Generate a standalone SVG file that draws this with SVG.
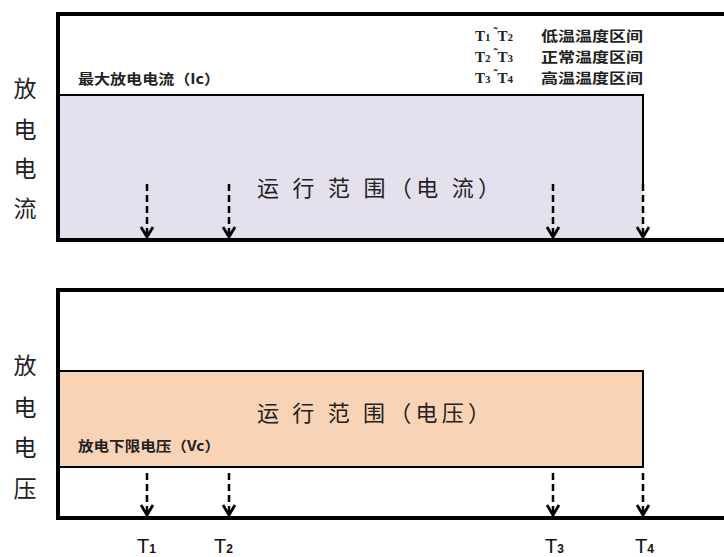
<svg xmlns="http://www.w3.org/2000/svg" width="724" height="557" viewBox="0 0 724 557">
<defs>
<style>
.frame{fill:none;stroke:#000;stroke-width:4}
.box{stroke:#000;stroke-width:2}
.arr{stroke:#000;stroke-width:2.5;stroke-dasharray:7 4;fill:none}
.head{stroke:#000;stroke-width:2.8;fill:none}
.side{font-family:"Noto Sans CJK SC",sans-serif;font-size:23px;fill:#222;text-anchor:middle}
.big{font-family:"Noto Sans CJK SC",sans-serif;font-size:22px;fill:#222}
.small{font-family:"Noto Sans CJK SC",sans-serif;font-size:14px;font-weight:bold;fill:#222}
.leg{font-family:"Liberation Serif","Noto Sans CJK SC",serif;font-size:15px;font-weight:bold;fill:#222}
.tl{font-family:"Liberation Sans",sans-serif;font-size:20px;fill:#111}
</style>
</defs>
<rect width="724" height="557" fill="#fff"/>

<g id="current-panel">
<rect x="58" y="95" width="585" height="145" fill="#e4e0ee"/>
<path class="box" d="M58 95 H643 V184" fill="none"/>
<path class="frame" d="M724 14 H58 V240 H724"/>
<text class="small" x="78" y="84" textLength="142" lengthAdjust="spacingAndGlyphs">最大放电电流（Ic）</text>
<text class="big" x="257" y="196" textLength="243" lengthAdjust="spacing">运 行 范 围（电 流）</text>
</g>

<g id="current-axis-label">
<text class="side" x="25" y="97">放</text>
<text class="side" x="25" y="138">电</text>
<text class="side" x="25" y="177">电</text>
<text class="side" x="25" y="217">流</text>
</g>

<g id="legend">
<text class="leg" x="475" y="41">T<tspan font-size="11">1</tspan><tspan dx="3" dy="-5" font-size="12">˜</tspan><tspan dy="5">T</tspan><tspan font-size="11">2</tspan></text>
<text class="leg" x="475" y="62">T<tspan font-size="11">2</tspan><tspan dx="3" dy="-5" font-size="12">˜</tspan><tspan dy="5">T</tspan><tspan font-size="11">3</tspan></text>
<text class="leg" x="475" y="83">T<tspan font-size="11">3</tspan><tspan dx="3" dy="-5" font-size="12">˜</tspan><tspan dy="5">T</tspan><tspan font-size="11">4</tspan></text>
<text class="small" x="541" y="41" textLength="102" lengthAdjust="spacingAndGlyphs" font-weight="normal">低温温度区间</text>
<text class="small" x="541" y="62" textLength="102" lengthAdjust="spacingAndGlyphs" font-weight="normal">正常温度区间</text>
<text class="small" x="541" y="83" textLength="102" lengthAdjust="spacingAndGlyphs" font-weight="normal">高温温度区间</text>
</g>

<g id="voltage-panel">
<rect x="58" y="371" width="585" height="96" fill="#f9d3b5" class="box"/>
<path class="frame" d="M724 290 H58 V518 H724"/>
<text class="big" x="257" y="421" textLength="233" lengthAdjust="spacing">运 行 范 围（电压）</text>
<text class="small" x="78" y="451" textLength="142" lengthAdjust="spacingAndGlyphs">放电下限电压（Vc）</text>
</g>

<g id="voltage-axis-label">
<text class="side" x="25" y="374">放</text>
<text class="side" x="25" y="416">电</text>
<text class="side" x="25" y="456">电</text>
<text class="side" x="25" y="497">压</text>
</g>

<g id="connectors">
<path class="arr" d="M147 184 V236"/>
<path class="arr" d="M229 184 V236"/>
<path class="arr" d="M553 184 V236"/>
<path class="arr" d="M643 184 V236"/>
<path class="head" d="M141 227 L147 237 L153 227"/>
<path class="head" d="M223 227 L229 237 L235 227"/>
<path class="head" d="M547 227 L553 237 L559 227"/>
<path class="head" d="M637 227 L643 237 L649 227"/>
<path class="arr" d="M147 473 V514"/>
<path class="arr" d="M229 473 V514"/>
<path class="arr" d="M553 473 V514"/>
<path class="arr" d="M643 473 V514"/>
<path class="head" d="M141 505 L147 515 L153 505"/>
<path class="head" d="M223 505 L229 515 L235 505"/>
<path class="head" d="M547 505 L553 515 L559 505"/>
<path class="head" d="M637 505 L643 515 L649 505"/>
</g>

<g id="t-labels">
<text class="tl" x="137" y="553">T<tspan font-size="12" font-weight="bold">1</tspan></text>
<text class="tl" x="214" y="553">T<tspan font-size="12" font-weight="bold">2</tspan></text>
<text class="tl" x="545" y="553">T<tspan font-size="12" font-weight="bold">3</tspan></text>
<text class="tl" x="635" y="553">T<tspan font-size="12" font-weight="bold">4</tspan></text>
</g>
</svg>
